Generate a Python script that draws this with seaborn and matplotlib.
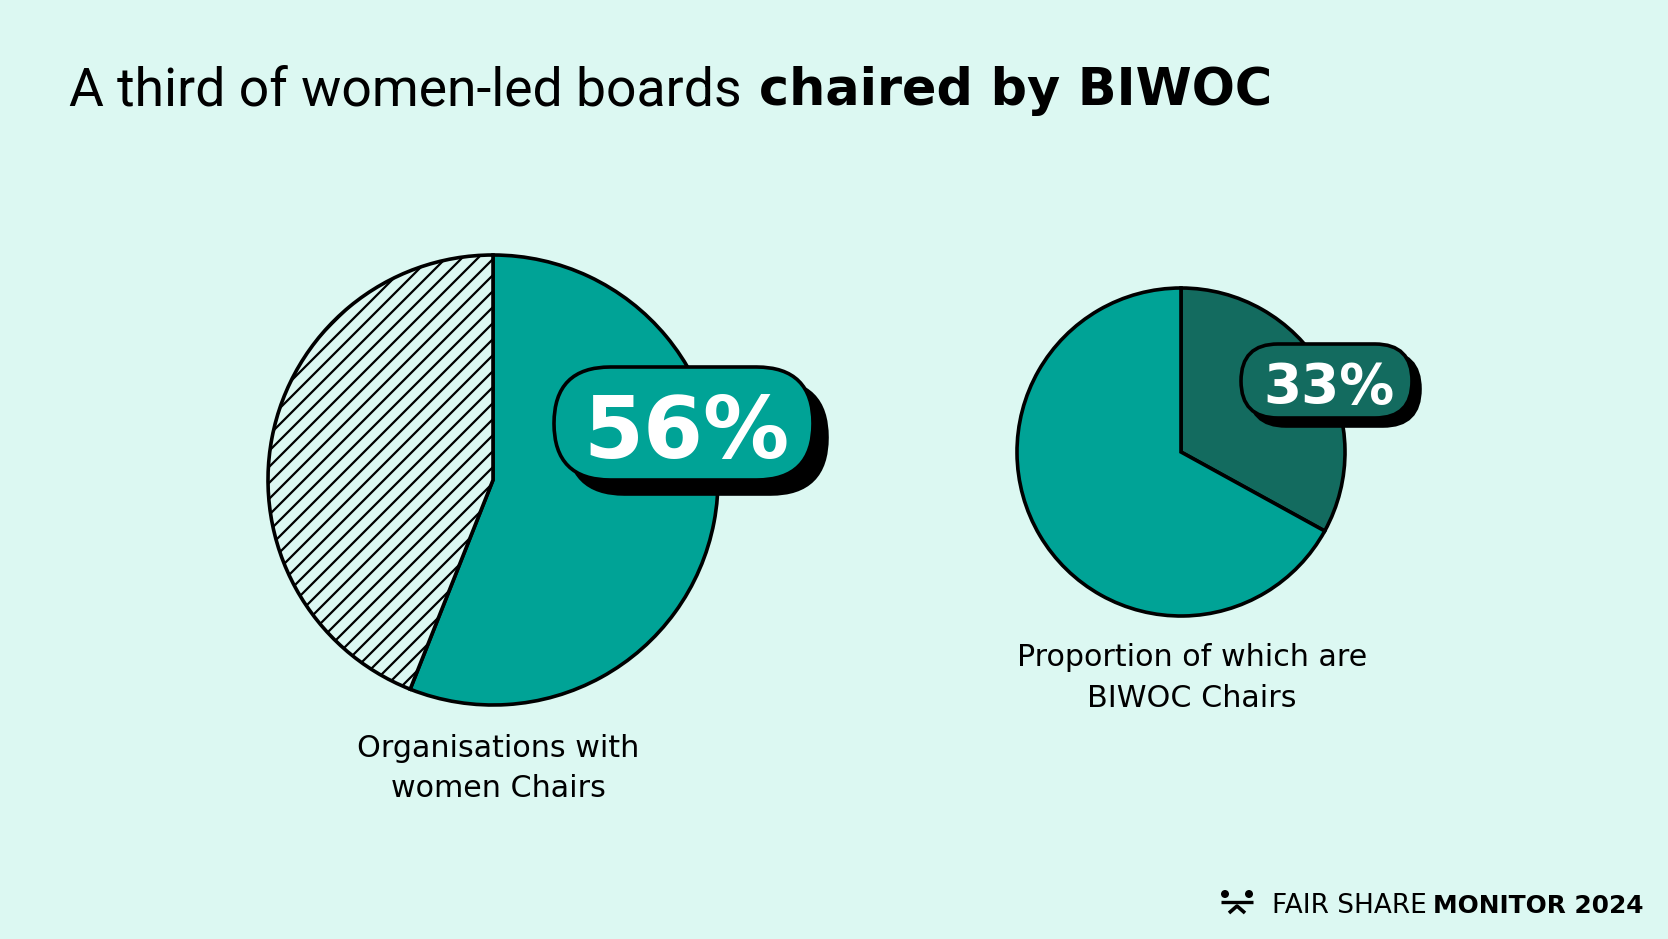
import matplotlib
matplotlib.use("Agg")
import matplotlib.pyplot as plt
import seaborn as sns
from matplotlib.patches import FancyBboxPatch, Circle
from matplotlib.lines import Line2D

# chart data
title_plain = "A third of women-led boards "
title_bold = "chaired by BIWOC"
women_chairs = [56, 44]      # women Chairs, other Chairs
biwoc_chairs = [33, 67]      # BIWOC Chairs, other women Chairs
left_caption = "Organisations with\nwomen Chairs"
right_caption = "Proportion of which are\nBIWOC Chairs"
footer_plain = "FAIR SHARE "
footer_bold = "MONITOR 2024"

BG = "#dcf8f2"
TEAL = "#00a396"
DARK = "#136b5f"

# dpi picked so the hatch spacing matches; sizes below are given as if at 100 dpi
DPI = 96
S = 100 / DPI


def pt(v):
    return v * S


sns.set_theme(style="white", rc={"figure.facecolor": BG, "axes.facecolor": BG,
                                 "hatch.linewidth": pt(1.6), "text.color": "black"})
plt.rcParams["font.family"] = ["DejaVu Sans"]

W, H = 1668, 939
fig = plt.figure(figsize=(W / DPI, H / DPI), dpi=DPI)
ax = fig.add_axes([0, 0, 1, 1])


def Y(y):
    return H - y


LW = pt(2.6)

# left pie: share of organisations with women Chairs
wl, _ = ax.pie(women_chairs, center=(493, Y(480)), radius=225, startangle=90,
               counterclock=False, colors=[TEAL, BG],
               wedgeprops=dict(edgecolor="black", linewidth=LW))
wl[1].set_hatch("//")

# right pie: share of those that are BIWOC Chairs
ax.pie(biwoc_chairs, center=(1181, Y(452)), radius=164, startangle=90,
       counterclock=False, colors=[DARK, TEAL],
       wedgeprops=dict(edgecolor="black", linewidth=LW))

ax.set_xlim(0, W)
ax.set_ylim(0, H)
ax.set_aspect("equal")
ax.axis("off")


def pill(cx, cy, w, h, face, shadow, text, size, baseline):
    for dx, dy, fc in [(shadow, -shadow, "black"), (0, 0, face)]:
        ax.add_patch(FancyBboxPatch((cx - w / 2 + dx, Y(cy) - h / 2 + dy), w, h,
                                    boxstyle=f"round,pad=0,rounding_size={h / 2}",
                                    fc=fc, ec="black", lw=LW, zorder=5))
    ax.text(cx + 3, Y(baseline), text, color="white", fontsize=pt(size),
            fontweight="bold", ha="center", va="baseline", zorder=6)


pill(683.5, 423.5, 259, 113, TEAL, 14, f"{women_chairs[0]}%", 62, 458)
pill(1326.5, 381, 171, 74, DARK, 8, f"{biwoc_chairs[0]}%", 39.5, 403)

# captions
for i, line in enumerate(left_caption.split("\n")):
    ax.text(498, Y(757 + 40 * i), line, fontsize=pt(21.7), ha="center", va="baseline")
for i, line in enumerate(right_caption.split("\n")):
    ax.text(1192, Y(666 + 41 * i), line, fontsize=pt(21.7), ha="center", va="baseline")

# title: plain part followed by bold part
fig.canvas.draw()
r = fig.canvas.get_renderer()
t1 = ax.text(69, Y(105), title_plain, fontsize=pt(38.5),
             family=["Roboto", "DejaVu Sans"], ha="left", va="baseline")
x_end = ax.transData.inverted().transform((t1.get_window_extent(r).x1, 0))[0]
ax.text(x_end + 4, Y(105), title_bold, fontsize=pt(36.6), fontweight="bold",
        ha="left", va="baseline")

# footer
f1 = ax.text(1272, Y(913), footer_plain, fontsize=pt(18.9), ha="left", va="baseline")
x_end = ax.transData.inverted().transform((f1.get_window_extent(r).x1, 0))[0]
ax.text(x_end - 2, Y(913), footer_bold, fontsize=pt(17.9), fontweight="bold",
        ha="left", va="baseline")

# footer logo
for cx in (1225, 1249):
    ax.add_patch(Circle((cx, Y(894)), 4, color="black", lw=0))
ax.add_line(Line2D([1221, 1253], [Y(902), Y(902)], color="black", lw=pt(2.4),
                   solid_capstyle="butt"))
ax.add_line(Line2D([1229, 1237, 1245], [Y(913), Y(906), Y(913)], color="black",
                   lw=pt(2.6), solid_capstyle="butt"))

fig.savefig("out.png", dpi=DPI, facecolor=BG)
